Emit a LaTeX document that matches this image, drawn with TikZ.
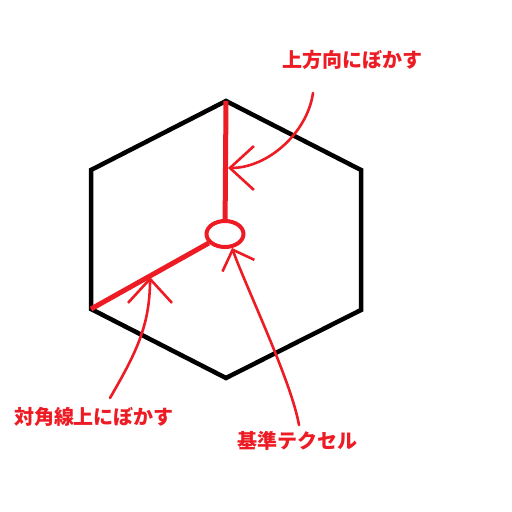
\documentclass[tikz,border=0pt]{standalone}
\usepackage{fontspec}
\newfontfamily\jpfont{Noto Sans CJK JP}
\usetikzlibrary{positioning, arrows.meta, shapes.geometric}
\definecolor{paintred}{RGB}{237,28,36}

\begin{document}
\begin{tikzpicture}[x=1pt, y=1pt,
    hexline/.style={black, line width=4.5pt, line join=miter},
    redline/.style={paintred, line width=5pt},
    pointer/.style={paintred, line width=2.6pt, line cap=round,
        -{Straight Barb[length=24pt, width=44pt, line width=2.6pt]}},
    lbl/.style={text=paintred, font=\jpfont\bfseries\fontsize{20}{24}\selectfont, inner sep=0pt}]
    \useasboundingbox (0,0) rectangle (512,512);
    % hexagon corners
    \foreach \n/\px/\py in {t/226/411, ur/361/342, lr/361/202, b/226/134, ll/91/203, ul/91/342}
        \coordinate (\n) at (\px,\py);
    \draw[hexline] (t) -- (ur) -- (lr) -- (b) -- (ll) -- (ul) -- cycle;
    
    % reference texel and its two blur directions
    \node[draw=paintred, line width=4pt, ellipse, inner sep=0pt, minimum width=37, minimum height=26] (texel) at (225,278) {};
    \draw[redline] (t) -- (texel);
    \draw[redline] (texel) -- (ll);
    
    % labels
    \node[lbl] (uplbl) at (352,452) {上方向にぼかす};
    \node[lbl] (diaglbl) at (94,95) {対角線上にぼかす};
    \node[lbl] (baselbl) at (297,71) {基準テクセル};
    
    % pointer ends
    \coordinate (s1) at (313,419);
    \coordinate (e1) at (228,344);
    \coordinate (s2) at (110,114);
    \coordinate (e2) at (150,235);
    \coordinate (s3) at (299,87);
    \coordinate (e3) at (232,264);
    \draw[pointer] (s1) to[out=-98, in=0, looseness=0.9] (e1);
    \draw[pointer] (s2) to[out=60, in=-90] (e2);
    \draw[pointer, -{Straight Barb[length=17pt, width=34pt, line width=2.6pt]}] (s3) to[out=100, in=-70, looseness=0.6] (e3);
\end{tikzpicture}
\end{document}
